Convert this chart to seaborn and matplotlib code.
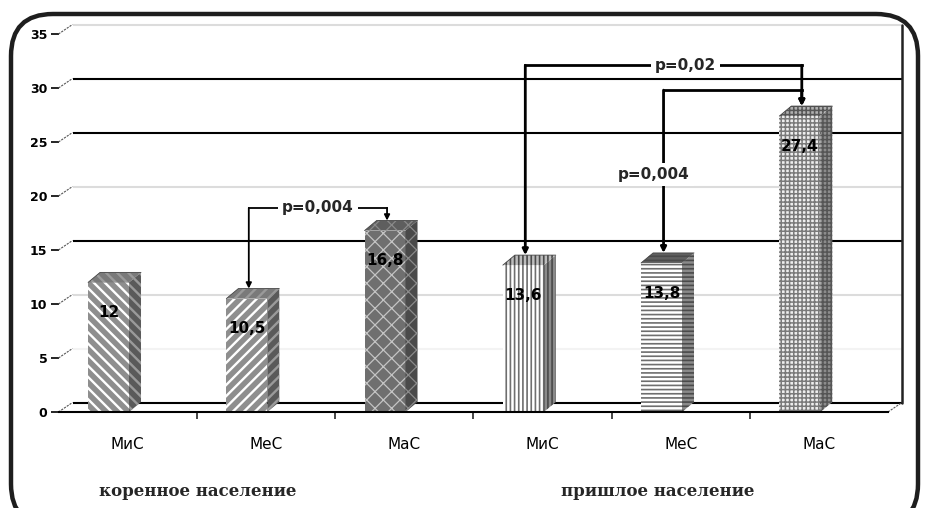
import matplotlib
matplotlib.use("Agg")
import matplotlib.pyplot as plt
import numpy as np
import pandas as pd
import seaborn as sns
from matplotlib.patches import Polygon, FancyBboxPatch
from matplotlib.transforms import IdentityTransform

# ---- data -------------------------------------------------------------
groups = ["коренное население", "пришлое население"]
sub_labels = ["МиС", "МеС", "МаС", "МиС", "МеС", "МаС"]
values = [12.0, 10.5, 16.8, 13.6, 13.8, 27.4]
y_ticks = [0, 5, 10, 15, 20, 25, 30, 35]
# pairwise comparisons: (bar a, bar b, p-value text)
comparisons = [(1, 2, "p=0,004"), (3, 5, "p=0,02"), (4, 5, "p=0,004")]

# ---- styling ----------------------------------------------------------
W, H, DPI = 926, 508, 100
sns.set_style("white")
plt.rcParams["font.family"] = ["DejaVu Sans"]

face_colors = ["#8e8e8e", "#8e8e8e", "#6f6f6f", "#ffffff", "#ffffff", "#eeeeee"]
hatches = ["\\\\\\", "///", "xx", "||||", "----", "++++"]
hatch_colors = ["#ffffff", "#ffffff", "#c4c4c4", "#6e6e6e", "#6e6e6e", "#7a7a7a"]
hatch_widths = [1.7, 1.7, 0.9, 1.2, 1.2, 1.1]
side_colors = ["#5a5a5a", "#5a5a5a", "#4a4a4a", "#8a8a8a", "#8a8a8a", "#8c8c8c"]
side_hatch = ["#9a9a9a", "#9a9a9a", "#8a8a8a", "#4a4a4a", "#4a4a4a", "#555555"]
top_colors = ["#7a7a7a", "#7a7a7a", "#5e5e5e", "#bdbdbd", "#606060", "#b0b0b0"]

dark_grid = [0, 15, 25, 30]
grid_color = {v: ("#000000" if v in dark_grid else ("#dcdcdc" if v != 5 else "#f3f3f3"))
              for v in y_ticks}

# bracket heights (front-plane value units) and label placement
bracket_height = [18.9, 32.1, 29.8]
bracket_lw = [1.3, 2.0, 2.0]
label_mode = ["top", "top", "side"]
label_frac = [0.5, 0.58, 0.5]

fig = plt.figure(figsize=(W / DPI, H / DPI), dpi=DPI)
fig.patch.set_facecolor("white")

# axes = front plane of the 3-D box
left_px, right_px, floor_px, top_px = 58.5, 888.0, 412.0, 34.0
ax = fig.add_axes([left_px / W, (H - floor_px) / H,
                   (right_px - left_px) / W, (floor_px - top_px) / H])
ax.set_facecolor("none")
ax.set_xlim(-0.5, 5.5)
ax.set_ylim(0, 35)

px_x = (right_px - left_px) / 6.0
px_y = (floor_px - top_px) / 35.0
# depth offsets (wall and bars), in data units
wall_dx, wall_dy = 14 / px_x, 9.5 / px_y
bar_dx, bar_dy = 12 / px_x, 10 / px_y

# back wall gridlines, right wall edge, floor
x0b, x1b = -0.5 + wall_dx, 5.5 + wall_dx
for v in y_ticks:
    ax.plot([x0b, x1b], [v + wall_dy, v + wall_dy], color=grid_color[v],
            lw=1.5, zorder=1, clip_on=False, solid_capstyle="butt")
    ax.plot([-0.5, x0b], [v, v + wall_dy], color="#555555", lw=0.8,
            ls=(0, (2, 1)), zorder=1, clip_on=False)
ax.plot([x1b, x1b], [wall_dy, 35 + wall_dy], color="#222222", lw=1.8,
        zorder=1, clip_on=False)
ax.plot([5.5, x1b], [0, wall_dy], color="#555555", lw=0.8,
        ls=(0, (2, 1)), zorder=1, clip_on=False)

# bars (front faces) through seaborn
df = pd.DataFrame({"pos": list(range(len(values))), "value": values})
sns.barplot(data=df, x="pos", y="value", ax=ax, width=0.296, color="white",
            saturation=1, zorder=3, errorbar=None)
bars = list(ax.containers[0])
shift = -0.138
front_centers = []
for i, p in enumerate(bars):
    p.set_x(p.get_x() + shift)
    p.set_facecolor(face_colors[i])
    p.set_edgecolor(hatch_colors[i])
    p.set_hatch(hatches[i])
    p.set_linewidth(0)
    try:
        p.set_hatch_linewidth(hatch_widths[i])
    except AttributeError:
        pass
    x0 = p.get_x()
    x1 = x0 + p.get_width()
    v = p.get_height()
    front_centers.append((x0 + x1) / 2)
    side = Polygon([(x1, 0), (x1, v), (x1 + bar_dx, v + bar_dy), (x1 + bar_dx, bar_dy)],
                   closed=True, facecolor=side_colors[i], edgecolor=side_hatch[i],
                   lw=0, hatch=hatches[i], zorder=3)
    top = Polygon([(x0, v), (x1, v), (x1 + bar_dx, v + bar_dy), (x0 + bar_dx, v + bar_dy)],
                  closed=True, facecolor=top_colors[i], edgecolor=side_hatch[i],
                  lw=0, hatch=hatches[i], zorder=3)
    for poly in (side, top):
        try:
            poly.set_hatch_linewidth(hatch_widths[i])
        except AttributeError:
            pass
        ax.add_patch(poly)
    ax.plot([x0, x0 + bar_dx, x1 + bar_dx], [v, v + bar_dy, v + bar_dy],
            color="#444444", lw=0.6, zorder=3.5)
    ax.text((x0 + x1) / 2, v - 2.8, f"{v:g}".replace(".", ","), ha="center",
            va="center", fontsize=11, fontweight="bold", color="black", zorder=5)

# comparison brackets
for k, (a, b, txt) in enumerate(comparisons):
    h = bracket_height[k]
    lw = bracket_lw[k]
    xa = front_centers[a] + 2 / px_x
    xb = front_centers[b] + 2 / px_x
    for xi, bi in ((xa, a), (xb, b)):
        ax.annotate("", xy=(xi, values[bi] + bar_dy), xytext=(xi, h),
                    arrowprops=dict(arrowstyle="-|>", lw=lw, color="black",
                                    mutation_scale=8, shrinkA=0, shrinkB=0),
                    zorder=6, annotation_clip=False)
    ax.plot([xa, xb], [h, h], color="black", lw=lw, zorder=6, clip_on=False,
            solid_capstyle="projecting")
    if label_mode[k] == "top":
        tx, ty = xa + label_frac[k] * (xb - xa), h
    else:
        tx, ty = xa - 0.07, values[a] + label_frac[k] * (h - values[a]) + 0.2
    ax.text(tx, ty, txt, ha="center", va="center", fontsize=11, fontweight="bold",
            zorder=7, bbox=dict(boxstyle="square,pad=0.25", fc="white", ec="none"))

# axes decoration
for s in ("left", "top", "right"):
    ax.spines[s].set_visible(False)
ax.spines["bottom"].set_color("black")
ax.spines["bottom"].set_linewidth(1.5)
ax.spines["bottom"].set_zorder(4)
ax.set_yticks(y_ticks)
ax.set_yticklabels([str(t) for t in y_ticks])
ax.tick_params(axis="y", direction="out", length=6, width=1.2, pad=2,
               labelsize=9, colors="black", left=True)
for lab in ax.get_yticklabels():
    lab.set_fontweight("bold")
ax.set_xticks(range(len(sub_labels)))
ax.set_xticklabels(sub_labels)
ax.set_xticks(np.arange(0.5, len(sub_labels) - 0.5, 1.0), minor=True)
ax.tick_params(axis="x", which="major", length=0, pad=18, labelsize=11,
               labelcolor="black")
ax.tick_params(axis="x", which="minor", length=5, width=1.2, direction="out",
               bottom=True)
ax.set_xlabel("")
ax.set_ylabel("")

# group captions
for cx, name in zip([198, 658], groups):
    fig.text(cx / W, 1 - 492 / H, name, ha="center", va="center",
             fontsize=12, fontweight="bold", family="DejaVu Serif")

# rounded frame
frame = FancyBboxPatch((11, -18), 907, 512, boxstyle="round,pad=0,rounding_size=42",
                       transform=IdentityTransform(), fill=False, lw=3.2,
                       ec="#1e1e1e")
fig.add_artist(frame)

fig.savefig("out.png", dpi=DPI)
